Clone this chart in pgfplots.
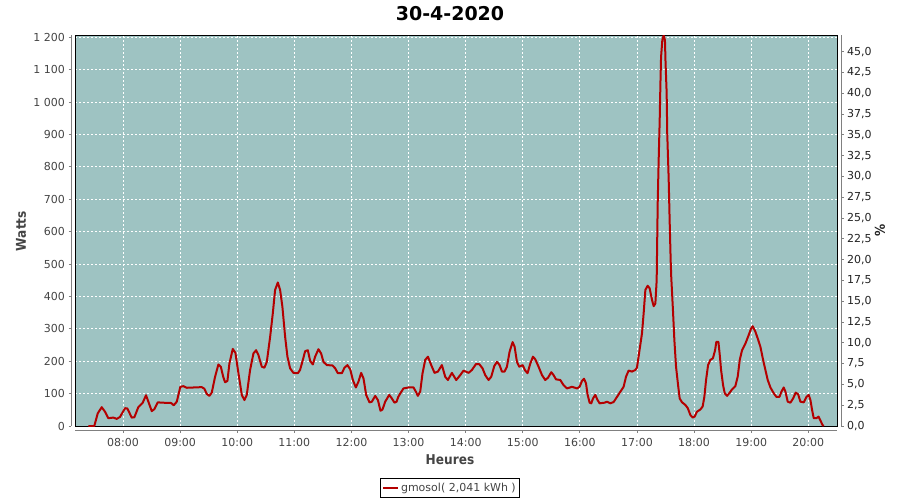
\documentclass[border=0pt]{standalone}
\usepackage{fontspec}
\setmainfont{DejaVu Sans}
\newfontfamily\labfont[FakeStretch=0.9]{DejaVu Sans Bold}
\usepackage{pgfplots}
\pgfplotsset{compat=1.18}
\definecolor{bgc}{RGB}{158,195,194}
\definecolor{linec}{RGB}{180,0,0}
\definecolor{labc}{RGB}{68,68,68}
\definecolor{labr}{RGB}{34,34,34}
\definecolor{axg}{RGB}{128,128,128}
\begin{document}
\begin{tikzpicture}
\path[use as bounding box] (0,0) rectangle (900bp,-500bp);
\begin{axis}[
  at={(75bp,-426bp)}, anchor=south west,
  scale only axis, width=762bp, height=391bp,
  xmin=7.159, xmax=20.503, ymin=0, ymax=1207,
  axis background/.style={fill=bgc},
  axis line style={black, line width=0.9bp},
  grid=major,
  grid style={white, line width=0.8bp, dash pattern=on 2bp off 2bp},
  xtick={8,9,...,20},
  xticklabels={08:00,09:00,10:00,11:00,12:00,13:00,14:00,15:00,16:00,17:00,18:00,19:00,20:00},
  ytick={0,100,...,1200},
  yticklabels={0,100,200,300,400,500,600,700,800,900,1 000,1 100,1 200},
  xtick pos=bottom, ytick pos=left,
  tick align=outside, major tick length=2.5bp,
  tick style={axg, line width=0.9bp},
  xtick style={yshift=-4bp}, ytick style={xshift=-4bp},
  tick label style={font=\fontsize{11bp}{13bp}\selectfont, text=labc},
  yticklabel style={xshift=-4bp},
  xticklabel style={yshift=-6bp},
  clip mode=individual,
  legend style={at={(axis description cs:0.492,-0.1586)}, anchor=center,
    draw=black, line width=0.9bp, font=\fontsize{11bp}{13bp}\selectfont,
    text=labc, inner xsep=2bp, inner ysep=3bp},
  legend image code/.code={\draw[#1] (0bp,0bp) -- (15bp,0bp);},
]
\addplot[linec, line width=2bp, line join=round] coordinates {
(7.392,0) (7.497,0) (7.557,39) (7.627,58) (7.685,44) (7.742,24) (7.83,26) (7.89,22) (7.947,28)
(8.035,55) (8.076,54) (8.152,26) (8.198,27) (8.268,58) (8.345,72) (8.403,95) (8.444,75) (8.503,46)
(8.549,52) (8.608,73) (8.689,72) (8.841,71) (8.888,64) (8.941,75) (9.004,121) (9.057,123) (9.116,118)
(9.379,120) (9.425,115) (9.466,99) (9.512,93) (9.554,103) (9.612,152) (9.670,190) (9.712,183)
(9.758,150) (9.787,135) (9.828,139) (9.863,193) (9.922,238) (9.968,226) (10.021,163) (10.08,96)
(10.126,80) (10.167,96) (10.225,173) (10.284,224) (10.33,234) (10.371,219) (10.43,183) (10.476,180)
(10.518,198) (10.576,275) (10.623,348) (10.663,420) (10.711,443) (10.751,420) (10.791,368) (10.839,275)
(10.879,214) (10.926,178) (10.984,164) (11.061,163) (11.10,173) (11.149,204) (11.189,231) (11.236,234)
(11.277,201) (11.324,190) (11.364,214) (11.422,237) (11.469,224) (11.51,198) (11.569,188) (11.668,187)
(11.715,178) (11.762,163) (11.832,163) (11.878,180) (11.93,188) (11.978,175) (12.025,142) (12.077,119)
(12.123,137) (12.17,164) (12.211,147) (12.258,96) (12.316,73) (12.357,75) (12.416,93) (12.463,80)
(12.509,47) (12.544,51) (12.591,75) (12.661,96) (12.708,85) (12.754,72) (12.79,75) (12.82,90)
(12.86,102) (12.911,116) (12.999,119) (13.087,119) (13.128,106) (13.163,93) (13.204,106) (13.245,163)
(13.292,204) (13.339,214) (13.397,188) (13.455,164) (13.514,168) (13.584,188) (13.642,152) (13.689,142)
(13.759,164) (13.835,142) (13.905,157) (13.963,171) (14.051,164) (14.110,173) (14.18,191) (14.238,191)
(14.296,178) (14.343,157) (14.401,142) (14.448,152) (14.501,185) (14.548,198) (14.594,188) (14.635,168)
(14.681,168) (14.723,183) (14.769,229) (14.822,259) (14.857,245) (14.898,198) (14.939,183) (14.997,188)
(15.044,171) (15.084,163) (15.132,193) (15.179,214) (15.219,206) (15.277,183) (15.337,157) (15.394,142)
(15.442,149) (15.499,166) (15.54,157) (15.582,144) (15.657,142) (15.715,126) (15.775,116) (15.862,121)
(15.95,116) (15.995,121) (16.037,139) (16.072,146) (16.107,132) (16.136,96) (16.171,72) (16.20,70)
(16.23,85) (16.27,96) (16.31,80) (16.346,70) (16.433,72) (16.476,75) (16.533,70) (16.591,74)
(16.651,90) (16.709,106) (16.766,121) (16.808,152) (16.854,171) (16.914,168) (16.971,173) (17.0,180)
(17.028,214) (17.058,250) (17.088,286) (17.117,348) (17.147,420) (17.187,433) (17.222,425) (17.264,389)
(17.292,370) (17.322,378) (17.345,450) (17.363,687) (17.38,821) (17.398,944) (17.41,1052) (17.422,1139)
(17.444,1191) (17.467,1206) (17.49,1191) (17.50,1124) (17.52,1027) (17.53,903) (17.555,764) (17.572,636)
(17.59,512) (17.60,461) (17.63,358) (17.655,265) (17.684,183) (17.72,126) (17.748,85) (17.79,73)
(17.848,65) (17.89,55) (17.935,34) (17.976,26) (18.01,29) (18.05,44) (18.11,51) (18.15,60) (18.18,90)
(18.21,142) (18.245,188) (18.285,204) (18.33,209) (18.368,234) (18.39,260) (18.426,260) (18.45,219)
(18.473,173) (18.508,126) (18.537,101) (18.578,93) (18.624,103) (18.665,113) (18.723,123) (18.764,152)
(18.80,204) (18.84,234) (18.9,255) (18.957,281) (18.999,301) (19.027,308) (19.074,291) (19.115,270)
(19.161,245) (19.209,204) (19.249,173) (19.29,142) (19.337,119) (19.395,101) (19.442,90) (19.495,90)
(19.53,106) (19.57,119) (19.6,106) (19.64,75) (19.687,72) (19.734,85) (19.78,103) (19.822,98)
(19.862,75) (19.92,73) (19.968,90) (20.008,96) (20.038,80) (20.067,49) (20.096,24) (20.143,24)
(20.18,29) (20.21,18) (20.25,3) (20.27,0)
};
\addlegendentry{gmosol( 2,041 kWh )}
\draw[axg, line width=1bp] ([xshift=-4bp]rel axis cs:0,0) -- ([xshift=-4bp]rel axis cs:0,1);
\draw[axg, line width=1bp] ([yshift=-4bp]rel axis cs:0,0) -- ([yshift=-4bp]rel axis cs:1,0);
\draw[axg, line width=1bp] ([xshift=4bp]rel axis cs:1,0) -- ([xshift=4bp]rel axis cs:1,1);
\end{axis}
\begin{axis}[
  at={(75bp,-426bp)}, anchor=south west,
  scale only axis, width=762bp, height=391bp,
  xmin=7.159, xmax=20.503, ymin=0, ymax=47.0,
  axis y line*=right, axis x line=none,
  axis line style={draw=none},
  ytick={0,2.5,...,45},
  tick align=outside, major tick length=2.5bp,
  tick style={axg, line width=0.9bp},
  ytick style={xshift=4bp},
  yticklabel style={font=\fontsize{11bp}{13bp}\selectfont, text=labr, xshift=4bp,
    /pgf/number format/.cd, use comma, fixed, fixed zerofill, precision=1, assume math mode=true},
]
\addplot[draw=none] coordinates {(8,0)};
\end{axis}
\node[font=\fontsize{19bp}{22bp}\selectfont\bfseries] at (450bp,-14bp) {30-4-2020};
\node[font=\labfont\fontsize{13.5bp}{16bp}\selectfont, text=labc] at (450bp,-460bp) {Heures};
\node[font=\labfont\fontsize{13.5bp}{16bp}\selectfont, text=labc, rotate=90] at (21bp,-231bp) {Watts};
\node[font=\labfont\fontsize{13.5bp}{16bp}\selectfont, text=labr, rotate=90] at (880bp,-230bp) {\%};
\end{tikzpicture}
\end{document}
